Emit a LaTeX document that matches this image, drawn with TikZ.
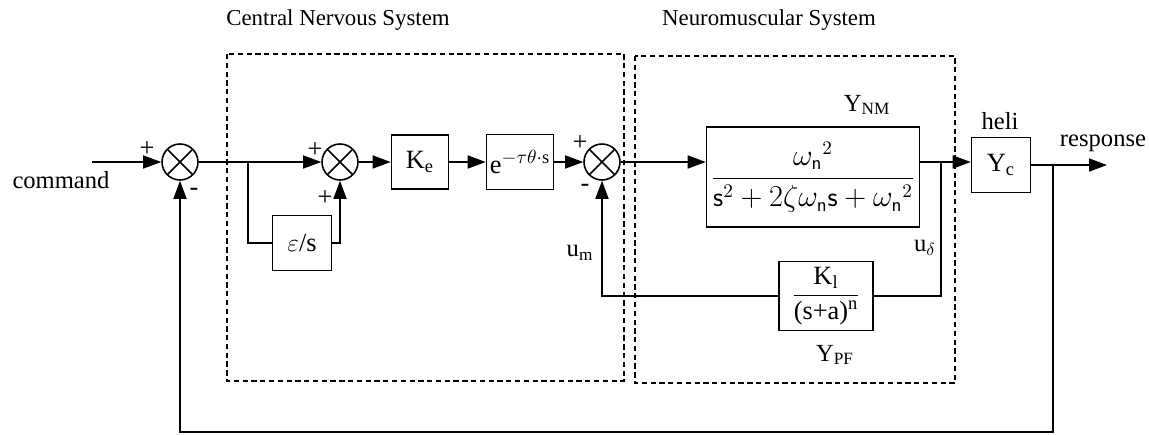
\documentclass[tikz,border=0pt]{standalone}
\usepackage{fontspec}
\setmainfont{Liberation Serif}
\usetikzlibrary{arrows.meta}
\newcommand{\sumnode}[3]{
  \node[sumjunction] (#1) at (#2,#3) {};
}
\tikzset{
  block/.style      = {draw, line width=0.9pt, inner sep=0pt, font=\fontsize{15}{17}\selectfont},
  sumjunction/.style = {draw, circle, line width=0.9pt, minimum size=0.72cm, inner sep=0pt,
                        path picture={\draw[line width=0.9pt]
                          (path picture bounding box.north west) -- (path picture bounding box.south east)
                          (path picture bounding box.north east) -- (path picture bounding box.south west);}},
  sysbox/.style     = {draw, dashed, line width=0.6pt, dash pattern=on 3pt off 2pt},
  title/.style      = {font=\fontsize{13}{15}\selectfont},
  lbl/.style        = {font=\fontsize{14}{16}\selectfont, inner sep=1pt},
  sgn/.style        = {font=\fontsize{15}{15}\selectfont, inner sep=0pt},
  sig/.style        = {line width=0.9pt, -{Triangle[length=3.6mm,width=2.6mm]}},
  wire/.style       = {line width=0.9pt}
}

\begin{document}
\begin{tikzpicture}[x=0.02cm,y=-0.02cm]
	\useasboundingbox (0,0) rectangle (1149,434);
	\draw[sysbox] (227,54) rectangle (624,381);
	\draw[sysbox] (635,56) rectangle (955,383);
	\node[title] (cnstitle) at (338,20) {Central Nervous System};
	\node[title] (nmstitle) at (769,20) {Neuromuscular System};
	\sumnode{sa}{180}{162}
	\sumnode{sb}{340}{162}
	\sumnode{sc}{602}{162}
	\node[block, minimum width=1.14cm, minimum height=1.08cm] (ke) at (420,162) {K\textsubscript{e}};
	\node[block, minimum width=1.34cm, minimum height=1.1cm] (delay) at (520,162) {e\textsuperscript{$-\tau\theta\cdot$s}};
	\node[block, minimum width=1.18cm, minimum height=1.1cm] (lead) at (302,243) {$\varepsilon$/s};
	\node[block, minimum width=4.26cm, minimum height=2cm, font=\fontsize{16}{18}\selectfont] (nm) at (813,177)
		{$\displaystyle\frac{\omega_{\mathsf{n}}{}^2}{\mathsf{s}^2+2\zeta\omega_{\mathsf{n}}\mathsf{s}+\omega_{\mathsf{n}}{}^2}$};
	\node[block, minimum width=1.88cm, minimum height=1.38cm] (pf) at (826,296)
		{$\displaystyle\frac{\textrm{K\textsubscript{l}}}{\textrm{(s+a)\textsuperscript{n}}}$};
	\node[block, minimum width=1.18cm, minimum height=1.1cm] (heli) at (1001,165) {Y\textsubscript{c}};
	\node[lbl] (nmlabel) at (867,105) {Y\textsubscript{NM}};
	\node[lbl] (pflabel) at (835,355) {Y\textsubscript{PF}};
	\node[lbl] (helilabel) at (1000,121) {heli};
	\node[lbl] (resplabel) at (1103,143) {response};
	\node[lbl] (cmdlabel) at (61,180) {command};
	\node[lbl] (umlabel) at (580,253) {u\textsubscript{m}};
	\node[lbl] (udlabel) at (925,248) {u\textsubscript{$\delta$}};
	\node[sgn] (pa) at (147,149) {+};
	\node[sgn] (ma) at (194,192) {-};
	\node[sgn] (pb) at (315,150) {+};
	\node[sgn] (pbb) at (325,198) {+};
	\node[sgn] (pc) at (580,143) {+};
	\node[sgn] (mc) at (585,188) {-};
	\coordinate (cmdin) at (92,162);
	\coordinate (respout) at (1107,165);
	\coordinate (split1) at (248,162);
	\coordinate (split2) at (941,162);
	\coordinate (split3) at (1053,165);
	\coordinate (fbbase) at (180,432);
	\draw[sig] (cmdin) -- (sa);
	\draw[sig] (sa) -- (sb);
	\draw[wire] (split1) |- (lead);
	\draw[sig] (lead) -| (sb);
	\draw[sig] (sb) -- (ke);
	\draw[sig] (ke) -- (delay);
	\draw[sig] (delay) -- (sc);
	\draw[sig] (sc) -- (sc -| nm.west);
	\draw[sig] (nm.east |- sc) -- (heli.west |- sc);
	\draw[sig] (heli) -- (respout);
	\draw[wire] (split2) |- (pf);
	\draw[sig] (pf) -| (sc);
	\draw[sig] (split3) |- (fbbase) -- (sa);
\end{tikzpicture}
\end{document}
